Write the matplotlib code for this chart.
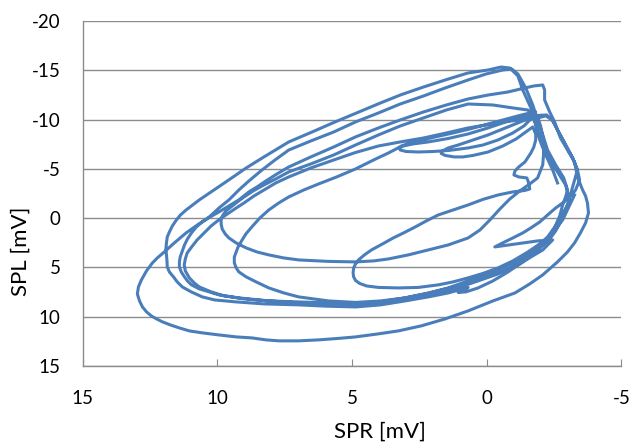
import numpy as np
import matplotlib.pyplot as plt

# --- trajectory, one pass per loop (SPR, SPL in mV) ---
# loop a: rise on the right, top peak, second-widest loop
loop_a_spr = [-2.63, -2.45, -2.19, -1.97, -1.82, -1.64, -1.34, -1.16, -0.86, -0.53, -0.05, 0.69, 1.50, 2.35,
              3.20, 4.02, 4.85, 5.68, 6.50, 7.35, 8.27, 8.93, 9.75, 10.67, 11.16, 11.37, 11.52, 11.67,
              11.78, 11.86, 11.89, 11.91, 11.89, 11.87, 11.86, 11.78, 11.60, 11.49, 11.30, 10.97, 10.56, 10.10,
              9.30, 8.27, 6.98, 5.98, 4.87, 3.94, 3.03, 2.17, 1.43, 0.88, 0.69, 0.84, 1.06, 0.77,
              0.32, -0.23, -0.79, -1.34, -1.89, -2.26, -2.52, -2.71, -2.82, -2.93, -3.00]
loop_a_spl = [-3.57, -4.89, -6.41, -7.93, -9.45, -11.18, -13.00, -14.42, -15.23, -15.33, -15.03, -14.73, -14.05, -13.30,
              -12.50, -11.60, -10.65, -9.70, -8.72, -7.73, -6.21, -5.09, -3.55, -1.85, -0.83, -0.32, 0.18, 0.79,
              1.40, 1.91, 2.52, 3.12, 3.73, 4.34, 4.95, 5.46, 6.06, 6.47, 6.98, 7.48, 7.99, 8.30,
              8.50, 8.70, 8.80, 8.93, 9.01, 8.80, 8.40, 7.99, 7.59, 7.18, 7.03, 7.28, 7.54, 7.48,
              7.08, 6.37, 5.46, 4.44, 3.23, 2.21, 0.99, -0.22, -1.34, -2.15, -2.86]

# loop b: outermost loop
loop_b_spr = [-2.86, -2.56, -2.26, -2.08, -1.89, -1.71, -1.45, -1.16, -0.93, -0.60, 0.03, 0.69, 1.54, 2.35,
              3.21, 4.02, 4.87, 5.68, 6.53, 7.35, 7.86, 8.34, 8.83, 9.20, 9.57, 9.94, 10.30, 10.74,
              11.16, 11.60, 11.97, 12.23, 12.41, 12.63, 12.82, 12.93, 12.97, 12.89, 12.78, 12.63, 12.45, 12.26,
              12.04, 11.75, 11.41, 11.04, 10.56, 9.94, 9.30, 8.72, 8.20, 7.71, 6.98, 6.24, 5.50, 4.87,
              4.02, 3.28, 2.43, 1.54, 0.69, -0.23, -1.05, -1.60, -2.08, -2.63, -3.00, -3.26, -3.48, -3.67,
              -3.78, -3.74, -3.67, -3.56]
loop_b_spl = [-4.08, -5.40, -6.91, -8.44, -9.96, -11.48, -13.21, -14.62, -15.13, -15.03, -14.62, -14.02, -13.21, -12.39,
              -11.58, -10.67, -9.76, -8.74, -7.83, -6.91, -5.90, -4.89, -3.77, -2.86, -1.85, -1.03, -0.12, 0.69,
              1.50, 2.52, 3.43, 4.04, 4.54, 5.35, 6.27, 6.98, 7.69, 8.40, 9.01, 9.51, 9.92, 10.22,
              10.52, 10.83, 11.14, 11.44, 11.64, 11.85, 12.05, 12.15, 12.35, 12.45, 12.45, 12.35, 12.20, 12.05,
              11.74, 11.44, 10.93, 10.22, 9.41, 8.40, 7.59, 6.67, 5.76, 4.44, 3.43, 2.52, 1.50, 0.49,
              -0.53, -1.54, -2.25, -2.86]

# loop c: second peak, third loop
loop_c_spr = [-3.37, -3.26, -3.00, -2.74, -2.52, -2.34, -2.15, -2.15, -2.08, -1.75, -1.42, -0.79, -0.05, 0.69,
              1.50, 2.35, 3.21, 4.02, 4.87, 5.68, 6.53, 7.35, 7.79, 8.20, 8.53, 8.83, 9.20, 9.57,
              9.94, 10.27, 10.56, 10.78, 10.96, 11.11, 11.22, 11.30, 11.38, 11.41, 11.41, 11.34, 11.22, 11.11,
              10.96, 10.67, 10.30, 9.94, 9.20, 8.27, 6.98, 5.87, 4.87, 3.94, 3.03, 2.17, 1.43, 0.69,
              -0.23, -1.16, -1.82, -2.26, -2.56, -2.82, -3.00, -3.08]
loop_c_spl = [-4.18, -5.70, -6.91, -8.13, -9.76, -10.77, -11.99, -13.00, -13.51, -13.41, -13.21, -12.80, -12.49, -12.09,
              -11.48, -10.77, -9.96, -9.15, -8.24, -7.22, -6.21, -5.19, -4.48, -3.77, -3.16, -2.66, -1.85, -1.24,
              -0.63, -0.12, 0.39, 0.89, 1.50, 2.11, 2.72, 3.33, 3.94, 4.44, 4.95, 5.46, 5.96, 6.37,
              6.77, 7.18, 7.48, 7.79, 8.09, 8.35, 8.60, 8.70, 8.75, 8.50, 8.09, 7.59, 7.08, 6.37,
              5.46, 4.34, 3.02, 1.91, 0.79, -0.43, -1.34, -1.85]

# loop d: loop turning near SPR 10
loop_d_spr = [-2.93, -2.63, -2.34, -2.11, -1.93, -1.75, -1.53, -0.97, -0.23, 0.69, 1.50, 2.35, 3.21, 4.02,
              4.87, 5.68, 6.53, 7.35, 7.83, 8.27, 8.67, 9.01, 9.26, 9.49, 9.68, 9.79, 9.86, 9.86,
              9.82, 9.71, 9.57, 9.30, 8.93, 8.53, 8.09, 7.53, 6.98, 5.87, 4.87, 4.20, 3.65, 2.91,
              2.17, 1.43, 0.69, 0.25, -0.12, -0.49, -0.86, -1.23, -1.60, -1.89]
loop_d_spl = [-3.37, -4.69, -5.90, -7.12, -8.64, -10.16, -10.97, -11.18, -11.48, -11.58, -10.97, -10.16, -9.35, -8.44,
              -7.42, -6.41, -5.50, -4.69, -3.98, -3.37, -2.76, -2.15, -1.64, -1.14, -0.73, -0.32, 0.08, 0.59,
              1.10, 1.60, 2.01, 2.52, 3.02, 3.43, 3.73, 4.04, 4.24, 4.39, 4.44, 4.34, 4.14, 3.73,
              3.23, 2.72, 2.01, 1.20, 0.18, -0.93, -1.95, -2.76, -3.47, -4.08]

# loop e: small upper loop
loop_e_spr = [-2.08, -2.11, -2.11, -2.08, -2.00, -1.89, -1.60, -1.16, -0.60, -0.05, 0.69, 1.43, 2.17, 2.73,
              3.10, 3.24, 3.21, 2.99, 2.54, 1.99, 1.43, 0.69, 0.14, -0.42, -0.97, -1.38, -1.64, -1.82]
loop_e_spl = [-5.40, -6.41, -7.42, -8.34, -9.35, -10.26, -10.37, -10.16, -9.66, -9.15, -8.54, -8.08, -7.73, -7.53,
              -7.32, -7.12, -6.91, -6.76, -6.71, -6.76, -6.86, -7.12, -7.42, -7.93, -8.64, -9.35, -10.06, -10.77]

# loop f: from the small loop tip down to the loop turning near SPR 9.4
loop_f_spr = [-1.45, -1.16, -0.60, -0.05, 0.62, 1.25, 1.91, 2.54, 2.91, 3.17, 3.36, 3.65, 4.20, 4.87,
              5.57, 6.24, 6.79, 7.35, 7.72, 8.09, 8.42, 8.72, 8.94, 9.08, 9.23, 9.30, 9.37, 9.37,
              9.30, 9.20, 8.93, 8.56, 8.09, 7.53, 6.98, 5.87, 4.87, 3.94, 3.03, 2.17, 1.43, 0.32,
              -0.42, -1.16, -1.71, -2.08, -2.45, -1.89, -1.34, -0.79, -0.30, -0.67, -0.97, -1.34, -1.64, -1.97,
              -2.26, -2.56, -2.82, -3.00, -3.19, -3.30]
loop_f_spl = [-10.57, -10.37, -9.96, -9.55, -9.05, -8.64, -8.24, -7.83, -7.58, -7.32, -7.02, -6.61, -5.90, -4.99,
              -4.18, -3.47, -2.86, -2.15, -1.54, -0.83, -0.02, 0.89, 1.60, 2.21, 2.92, 3.43, 3.94, 4.54,
              5.05, 5.46, 5.96, 6.47, 7.08, 7.59, 7.99, 8.40, 8.55, 8.40, 8.09, 7.64, 7.13, 6.27,
              5.56, 4.75, 3.83, 3.23, 2.21, 2.31, 2.52, 2.72, 2.92, 2.41, 2.01, 1.50, 0.99, 0.39,
              -0.32, -1.03, -1.54, -1.95, -2.45, -2.86]

# loop g: another pass through the middle band
loop_g_spr = [-3.45, -3.37, -3.19, -2.93, -2.63, -2.45, -2.19, -1.89, -1.23, -0.60, 0.03, 0.69, 1.50, 2.35,
              3.21, 4.02, 4.87, 5.68, 6.53, 7.35, 7.83, 8.27, 8.64, 9.01, 9.30, 9.57, 9.90, 10.23,
              10.49, 10.75, 10.94, 11.12, 11.19, 11.23, 11.19, 11.04, 10.86, 10.67, 10.23, 9.75, 9.01, 8.09,
              6.98, 5.87, 4.87, 3.94, 3.03, 2.09, 1.14, 0.32, -0.42, -1.01, -1.53, -1.97, -2.34, -2.56,
              -2.74, -2.89, -3.00]
loop_g_spl = [-3.87, -4.89, -6.11, -7.42, -8.95, -9.96, -10.37, -10.16, -9.96, -9.76, -9.45, -9.15, -8.64, -8.13,
              -7.73, -7.32, -6.66, -5.90, -5.09, -4.18, -3.57, -2.86, -2.25, -1.54, -1.03, -0.53, 0.08, 0.79,
              1.50, 2.21, 2.87, 3.53, 4.14, 4.75, 5.35, 6.06, 6.57, 6.98, 7.48, 7.89, 8.19, 8.40,
              8.50, 8.60, 8.65, 8.50, 8.19, 7.69, 7.13, 6.37, 5.66, 4.85, 3.94, 3.02, 2.11, 1.30,
              0.39, -0.53, -1.34]

# loop h: second small upper loop, zigzag on the right, inner loop
loop_h_spr = [-3.37, -3.19, -2.93, -2.63, -2.45, -2.23, -1.89, -1.34, -0.60, -0.05, 0.51, 1.06, 1.43, 1.65,
              1.69, 1.54, 1.21, 0.88, 0.51, -0.05, -0.60, -1.09, -1.45, -1.71, -1.82, -1.82, -1.75, -1.64,
              -1.42, -1.19, -1.05, -1.01, -1.19, -1.49, -1.56, -1.60, -1.42, -0.97, -0.42, 0.14, 0.69, 1.25,
              1.80, 2.24, 2.65, 3.05, 3.47, 3.87, 4.28, 4.54, 4.76, 4.87, 4.94, 4.96, 4.94, 4.87,
              4.72, 4.46, 4.02, 3.28, 2.54, 1.80, 1.25, 0.69, 0.14, -0.42, -0.97, -1.53, -1.89, -2.26,
              -2.56, -2.82, -2.96, -3.08, -3.19, -3.26]
loop_h_spl = [-4.89, -6.11, -7.42, -8.95, -9.86, -10.47, -10.42, -9.86, -9.05, -8.44, -7.93, -7.42, -7.12, -6.81,
              -6.56, -6.36, -6.21, -6.21, -6.36, -6.71, -7.32, -8.03, -8.74, -9.25, -8.54, -7.93, -7.22, -6.61,
              -5.70, -5.19, -4.79, -4.38, -4.18, -4.08, -3.57, -2.96, -2.81, -2.66, -2.35, -1.90, -1.34, -0.83,
              -0.32, 0.28, 0.89, 1.45, 2.01, 2.62, 3.23, 3.73, 4.24, 4.65, 5.05, 5.56, 5.96, 6.32,
              6.62, 6.88, 7.03, 7.08, 7.03, 6.77, 6.47, 6.06, 5.61, 5.05, 4.34, 3.43, 2.77, 2.01,
              1.10, 0.18, -0.63, -1.34, -1.95, -2.35]

x_ticks = [15, 10, 5, 0, -5]
y_ticks = [-20, -15, -10, -5, 0, 5, 10, 15]

spr = np.concatenate([loop_a_spr, loop_b_spr, loop_c_spr, loop_d_spr, loop_e_spr,
                      loop_f_spr, loop_g_spr, loop_h_spr])
spl = np.concatenate([loop_a_spl, loop_b_spl, loop_c_spl, loop_d_spl, loop_e_spl,
                      loop_f_spl, loop_g_spl, loop_h_spl])

plt.rcParams['font.family'] = ['Lato', 'DejaVu Sans']

fig = plt.figure(figsize=(6.36, 4.44), dpi=100)
ax = fig.add_axes([0.130, 0.1757, 0.847, 0.7770])

ax.plot(spr, spl, color='#4A7EBB', linewidth=2.2, solid_joinstyle='round', zorder=3)

ax.set_xlim(15, -5)
ax.set_ylim(15, -20)
ax.set_xticks(x_ticks)
ax.set_yticks(y_ticks)
ax.set_xticklabels([str(v) for v in x_ticks])
ax.set_yticklabels([str(v) for v in y_ticks])

grey = '#8C8C8C'
ax.grid(axis='y', color=grey, linewidth=1.0)
ax.set_axisbelow(True)
for side in ['top', 'right']:
    ax.spines[side].set_visible(False)
for side in ['left', 'bottom']:
    ax.spines[side].set_color(grey)
    ax.spines[side].set_linewidth(1.0)

ax.tick_params(axis='x', direction='in', length=5, color=grey, labelsize=13.5, pad=17)
ax.tick_params(axis='y', length=0, labelsize=13.5, pad=16)

fig.text(0.598, 0.027, 'SPR [mV]', fontsize=16, ha='center', va='center')
fig.text(0.033, 0.435, 'SPL [mV]', fontsize=16, ha='center', va='center', rotation=90)

fig.savefig('out.png', dpi=100)
